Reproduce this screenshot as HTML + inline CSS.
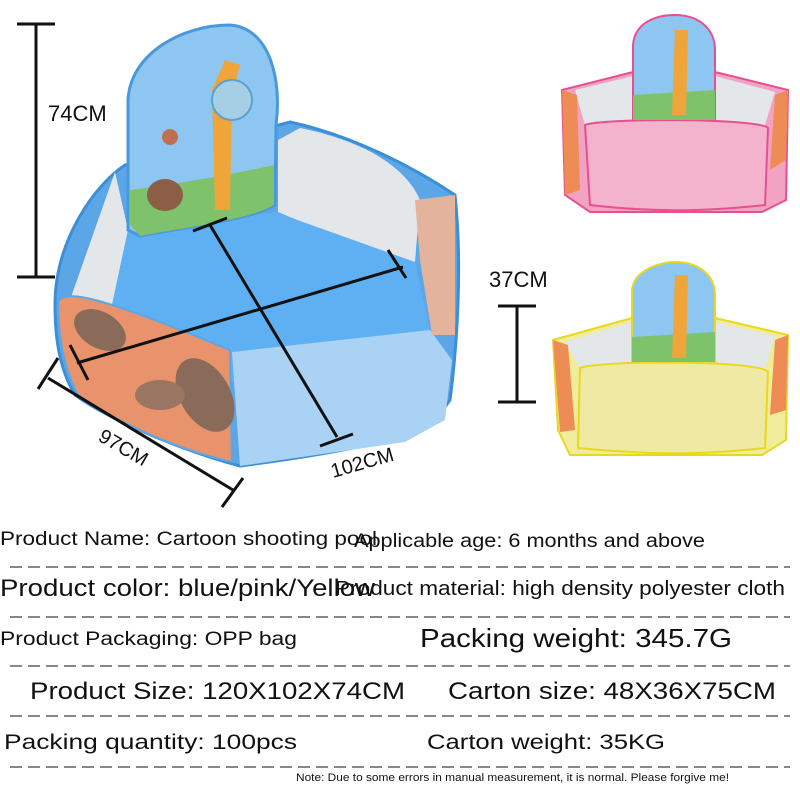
<!DOCTYPE html>
<html><head><meta charset="utf-8"><style>
html,body{margin:0;padding:0;background:#fff;}
svg{display:block;}
text{font-family:"Liberation Sans",sans-serif;fill:#111;}
</style></head><body>
<svg width="800" height="800" viewBox="0 0 800 800" xmlns="http://www.w3.org/2000/svg">
<!-- Blue tent -->
<path d="M55,305 C55,240 95,185 125,165 L290,122 C350,135 410,165 455,195 C462,260 458,340 450,400 C430,430 400,445 240,466 C180,450 110,420 75,395 C60,370 55,340 55,305 Z" fill="#5aa6e6" stroke="#3c8fd6" stroke-width="3"/>
<path d="M70,300 L115,172 L128,230 L112,305 Z" fill="#e3e7ea"/>
<path d="M278,140 L300,128 C360,140 405,165 420,200 L415,262 L380,255 L278,212 Z" fill="#e3e7ea"/>
<path d="M112,305 L128,230 L275,212 L415,262 L430,330 L240,385 L95,330 Z" fill="#5fb0f2"/>
<path d="M58,302 C65,290 90,292 230,350 L232,462 C180,450 120,425 78,395 C62,365 58,330 58,302 Z" fill="#e8936b" stroke="#5aa6e6" stroke-width="2"/>
<ellipse cx="100" cy="330" rx="28" ry="18" fill="#8a6b5a" transform="rotate(30 100 330)"/>
<ellipse cx="205" cy="395" rx="25" ry="40" fill="#8a6b5a" transform="rotate(-30 205 395)"/>
<ellipse cx="160" cy="395" rx="25" ry="15" fill="#9a7562"/>
<path d="M232,352 L430,330 L452,360 L445,420 L405,442 L240,466 Z" fill="#a9d2f4"/>
<path d="M415,200 L455,195 L455,335 L432,335 L420,260 Z" fill="#e3b39b"/>
<path d="M128,230 L128,100 C130,55 180,25 230,25 C270,28 282,80 276,125 L275,205 C250,220 180,228 140,236 Z" fill="#8dc6f0" stroke="#4a98dc" stroke-width="3"/>
<path d="M130,190 C170,185 230,175 274,165 L274,205 C250,220 180,228 140,236 L130,225 Z" fill="#7ec36c"/>
<path d="M212,90 L225,60 L240,65 L232,95 L230,210 L215,210 Z" fill="#f0a53a"/>
<ellipse cx="165" cy="195" rx="18" ry="16" fill="#8b5e45"/>
<circle cx="232" cy="100" r="20" fill="#a6cfe6" stroke="#5aa0d0" stroke-width="2"/>
<circle cx="170" cy="137" r="8" fill="#c07050"/>
<!-- measurement lines -->
<g stroke="#111" stroke-width="3" fill="none">
<line x1="36" y1="24" x2="36" y2="277"/><line x1="17" y1="24" x2="55" y2="24"/><line x1="17" y1="277" x2="55" y2="277"/>
<line x1="517" y1="306" x2="517" y2="402"/><line x1="498" y1="306" x2="536" y2="306"/><line x1="498" y1="402" x2="536" y2="402"/>
<line x1="210" y1="225" x2="337" y2="437"/><line x1="193" y1="231" x2="227" y2="218"/><line x1="320" y1="446" x2="353" y2="434"/>
<line x1="77" y1="363" x2="403" y2="267"/><line x1="70" y1="345" x2="88" y2="380"/><line x1="388" y1="250" x2="406" y2="278"/>
<line x1="48" y1="378" x2="233" y2="490"/><line x1="38" y1="389" x2="58" y2="358"/><line x1="222" y1="507" x2="243" y2="478"/>
</g>
<text x="48" y="121" font-size="22">74CM</text>
<text x="489" y="287" font-size="22">37CM</text>
<text x="0" y="0" font-size="20" transform="translate(97,440) rotate(30)">97CM</text>
<text x="0" y="0" font-size="20" transform="translate(333,478) rotate(-16)">102CM</text>
<!-- Pink tent -->
<path d="M562,90 L633,72 L715,72 L788,90 L786,200 L762,212 L590,212 L565,195 Z" fill="#f2a3c3" stroke="#e84f92" stroke-width="2"/>
<path d="M575,90 L633,76 L633,120 L585,125 Z" fill="#e3e7ea"/><path d="M715,76 L775,92 L765,125 L715,120 Z" fill="#e3e7ea"/>
<path d="M585,125 C600,118 760,118 768,128 L765,205 C700,212 650,212 590,205 Z" fill="#f4b3cc" stroke="#e84f92" stroke-width="2"/>
<path d="M562,90 L577,95 L580,190 L565,195 Z" fill="#ee8c55"/><path d="M775,95 L788,90 L786,160 L770,170 Z" fill="#ee8c55"/>
<path d="M633,120 L633,45 C635,20 660,15 675,15 C700,15 715,30 715,50 L715,120 C690,118 660,118 633,120 Z" fill="#8dc6f0" stroke="#e84f92" stroke-width="2"/>
<path d="M633,95 L715,90 L715,120 L633,120 Z" fill="#7ec36c"/>
<path d="M675,30 L688,30 L686,115 L672,115 Z" fill="#f0a53a"/>
<!-- Yellow tent -->
<path d="M553,340 L632,318 L715,318 L788,335 L786,440 L762,455 L570,455 L558,430 Z" fill="#f1ec9c" stroke="#e9d81e" stroke-width="2"/>
<path d="M565,342 L632,322 L632,362 L580,368 Z" fill="#e3e7ea"/><path d="M715,322 L775,336 L765,368 L715,362 Z" fill="#e3e7ea"/>
<path d="M580,368 C600,360 760,360 768,372 L765,448 C700,455 650,455 578,448 Z" fill="#efe9a4" stroke="#e9d81e" stroke-width="2"/>
<path d="M553,340 L568,345 L575,430 L560,432 Z" fill="#ee8c55"/><path d="M775,340 L788,335 L786,410 L770,415 Z" fill="#ee8c55"/>
<path d="M632,362 L632,290 C634,270 660,262 675,262 C700,262 715,276 715,295 L715,362 C690,360 660,360 632,362 Z" fill="#8dc6f0" stroke="#e9d81e" stroke-width="2"/>
<path d="M632,337 L715,332 L715,362 L632,362 Z" fill="#7ec36c"/>
<path d="M675,275 L688,275 L686,358 L672,358 Z" fill="#f0a53a"/>
<!-- dashed separators -->
<g stroke="#888" stroke-width="2" stroke-dasharray="12,6">
<line x1="10" y1="567" x2="790" y2="567"/><line x1="10" y1="617" x2="790" y2="617"/><line x1="10" y1="666" x2="790" y2="666"/><line x1="10" y1="716" x2="790" y2="716"/><line x1="10" y1="767" x2="790" y2="767"/>
</g>
<text x="0" y="545" font-size="19" textLength="377" lengthAdjust="spacingAndGlyphs">Product Name: Cartoon shooting pool</text>
<text x="354" y="547" font-size="19" textLength="351" lengthAdjust="spacingAndGlyphs">Applicable age: 6 months and above</text>
<text x="0" y="596" font-size="24" textLength="375" lengthAdjust="spacingAndGlyphs">Product color: blue/pink/Yellow</text>
<text x="335" y="595" font-size="20" textLength="450" lengthAdjust="spacingAndGlyphs">Product material: high density polyester cloth</text>
<text x="0" y="645" font-size="19" textLength="297" lengthAdjust="spacingAndGlyphs">Product Packaging: OPP bag</text>
<text x="420" y="647" font-size="26" textLength="312" lengthAdjust="spacingAndGlyphs">Packing weight: 345.7G</text>
<text x="30" y="699" font-size="24" textLength="375" lengthAdjust="spacingAndGlyphs">Product Size: 120X102X74CM</text>
<text x="448" y="699" font-size="24" textLength="328" lengthAdjust="spacingAndGlyphs">Carton size: 48X36X75CM</text>
<text x="4" y="749" font-size="21" textLength="293" lengthAdjust="spacingAndGlyphs">Packing quantity: 100pcs</text>
<text x="427" y="749" font-size="21" textLength="238" lengthAdjust="spacingAndGlyphs">Carton weight: 35KG</text>
<text x="296" y="781" font-size="11" textLength="433" lengthAdjust="spacingAndGlyphs">Note: Due to some errors in manual measurement, it is normal. Please forgive me!</text>
</svg>
</body></html>
